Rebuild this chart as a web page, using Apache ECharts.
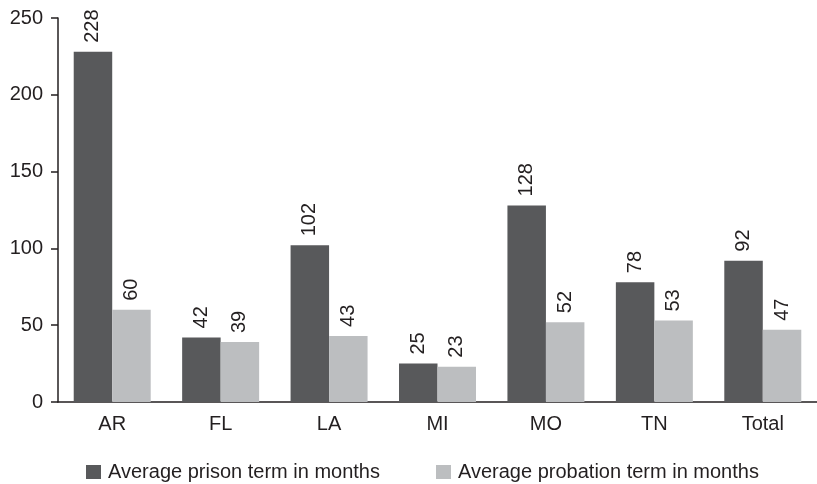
<!DOCTYPE html>
<html>
<head>
<meta charset="utf-8">
<script src="https://cdn.jsdelivr.net/npm/echarts@6/dist/echarts.min.js"></script>
<style>
  html, body { margin: 0; padding: 0; background: #fff; }
  #chart { width: 817px; height: 484px; }
</style>
</head>
<body>
<div id="chart"></div>
<script>
// Average sentence lengths by state
const states = ['AR', 'FL', 'LA', 'MI', 'MO', 'TN', 'Total'];
const prisonMonths = [228, 42, 102, 25, 128, 78, 92];
const probationMonths = [60, 39, 43, 23, 52, 53, 47];
const yTicks = [0, 50, 100, 150, 200, 250];

const FONT = '"Liberation Sans", Arial, Helvetica, sans-serif';
const TEXT = '#231f20';

const valueLabel = {
  show: true,
  position: 'top',
  rotate: 90,
  align: 'left',
  verticalAlign: 'middle',
  distance: 9,
  color: TEXT,
  fontSize: 20,
  fontFamily: FONT
};

const chart = echarts.init(document.getElementById('chart'), null, { renderer: 'canvas' });
chart.setOption({
  animation: false,
  backgroundColor: '#ffffff',
  textStyle: { fontFamily: FONT, color: TEXT },
  grid: { left: 58, right: 0, top: 18, bottom: 82, containLabel: false },
  legend: {
    left: 81,
    top: 457,
    itemWidth: 15,
    itemHeight: 14,
    itemGap: 56,
    icon: 'rect',
    textStyle: { fontSize: 20, color: TEXT, fontFamily: FONT, padding: [0, 0, 0, 2] },
    data: ['Average prison term in months', 'Average probation term in months']
  },
  xAxis: {
    type: 'category',
    data: states,
    axisLine: { lineStyle: { color: TEXT, width: 1.5 } },
    axisTick: { show: false },
    axisLabel: { color: TEXT, fontSize: 20, margin: 12, fontFamily: FONT }
  },
  yAxis: {
    type: 'value',
    min: yTicks[0],
    max: yTicks[yTicks.length - 1],
    interval: yTicks[1] - yTicks[0],
    axisLine: { show: true, lineStyle: { color: TEXT, width: 1.5 } },
    axisTick: { show: true, length: 7, lineStyle: { color: TEXT, width: 1.5 } },
    splitLine: { show: false },
    axisLabel: { color: TEXT, fontSize: 20, margin: 15, fontFamily: FONT }
  },
  series: [
    {
      name: 'Average prison term in months',
      type: 'bar',
      data: prisonMonths,
      barGap: '0%',
      barCategoryGap: '29%',
      itemStyle: { color: '#58595b' },
      label: valueLabel
    },
    {
      name: 'Average probation term in months',
      type: 'bar',
      data: probationMonths,
      itemStyle: { color: '#bcbec0' },
      label: valueLabel
    }
  ]
});
</script>
</body>
</html>
